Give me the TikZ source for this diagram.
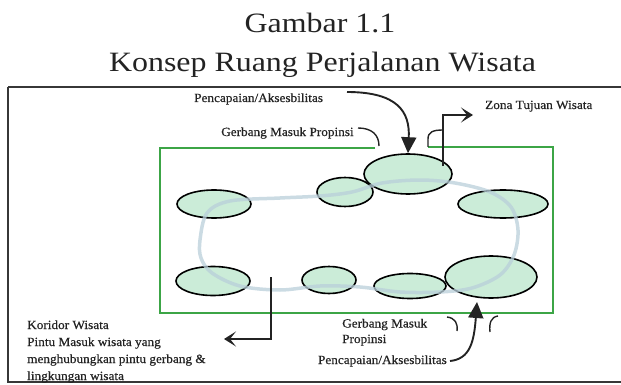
\documentclass[tikz,border=0pt]{standalone}
\usepackage{fontspec}
\setmainfont{Liberation Serif}
\newfontfamily\titlefont[FakeStretch=1.14]{Liberation Serif}
\newfontfamily\labelfont[FakeStretch=1.06,FakeBold=0.5]{Liberation Serif}
\usetikzlibrary{shapes.geometric,arrows.meta}
\definecolor{ink}{RGB}{35,35,35}
\definecolor{framec}{RGB}{55,55,55}
\definecolor{zonec}{RGB}{60,165,70}
\definecolor{mint}{RGB}{203,236,216}
\definecolor{loopc}{RGB}{185,207,218}
\begin{document}
\begin{tikzpicture}[x=1pt,y=-1pt,
  titletext/.style={font=\titlefont\fontsize{28}{30}\selectfont, text=ink, inner sep=0},
  lbl/.style={font=\labelfont\fontsize{12.5}{17}\selectfont, text=ink, inner sep=0},
  spot/.style={ellipse, draw=black, line width=1.6pt, fill=mint, inner sep=0},
  arrowline/.style={draw=ink, line width=1.9pt},
  hookline/.style={draw=ink, line width=1.4pt},
  bigtip/.style={-{Triangle[length=16pt,width=15pt]}},
  opentip/.style={-{Stealth[length=12pt,width=15pt,inset=6pt]}},
]
\useasboundingbox (0,0) rectangle (621,385);

% titles
\node[titletext, anchor=base] (t1) at (320,33) {Gambar 1.1};
\node[titletext, anchor=base] (t2) at (322.5,72) {Konsep Ruang Perjalanan Wisata};

% outer frame
\draw[framec, line width=1.6pt] (621,87) -- (8,87);
\draw[framec, line width=1.2pt] (8,87) -- (8,382) -- (621,382);

% green zone
\draw[zonec, line width=1.5pt] (375,148) -- (160,148) -- (160,313) -- (553,313) -- (553,147) -- (428,147);

% spots
\node[spot, minimum width=74pt, minimum height=28pt] (e1) at (214,204) {};
\node[spot, minimum width=56pt, minimum height=29pt] (e2) at (345,192) {};
\node[spot, minimum width=88pt, minimum height=40pt] (e3) at (408,174) {};
\node[spot, minimum width=90pt, minimum height=28pt] (e4) at (503,204) {};
\node[spot, minimum width=74pt, minimum height=29pt] (e5) at (213,281) {};
\node[spot, minimum width=54pt, minimum height=27pt] (e6) at (329,280) {};
\node[spot, minimum width=72pt, minimum height=25pt] (e7) at (410,286) {};
\node[spot, minimum width=92pt, minimum height=42pt] (e8) at (491,277) {};

% corridor loop
\draw[loopc, line width=3.5pt, opacity=0.75] plot[smooth cycle, tension=0.55] coordinates {
  (200,240) (207,213) (230,201) (280,198) (320,196) (352,192) (382,183) (420,180)
  (455,183) (490,192) (511,207) (518,230) (514,255) (500,275) (472,288) (440,292)
  (400,292) (360,287) (320,286) (280,290) (240,286) (212,273) (201,258)};

% labels
\node[lbl, anchor=base west] (p1) at (194,102) {Pencapaian/Aksesbilitas};
\node[lbl, anchor=base west] (g1) at (221,136) {Gerbang Masuk Propinsi};
\node[lbl, anchor=base west] (z1) at (485,109) {Zona Tujuan Wisata};
\node[lbl, anchor=base west, align=left] (k1) at (27,380)
  {Koridor Wisata\\Pintu Masuk wisata yang\\menghubungkan pintu gerbang \&\\lingkungan wisata};
\node[lbl, anchor=base west, align=left, font=\labelfont\fontsize{12.5}{15.5}\selectfont] (g2) at (342,343)
  {Gerbang Masuk\\Propinsi};
\node[lbl, anchor=base east] (p2) at (447,364) {Pencapaian/Aksesbilitas};

% coordinates for connector ends
\coordinate (a1s) at (347,92);
\coordinate (g1s) at (358,128);
\coordinate (g1e) at (379,146);
\coordinate (zs) at (443,166);
\coordinate (zc) at (443,115);
\coordinate (ze) at (473,115);
\coordinate (zh) at (428,147);
\coordinate (ks) at (271,277);
\coordinate (kc) at (271,339);
\coordinate (ke) at (224,339);
\coordinate (h1s) at (447,317);
\coordinate (h1e) at (457,331);
\coordinate (h2s) at (498,316);
\coordinate (h2e) at (490,332);
\coordinate (a2s) at (450,361);
\coordinate (a2e) at (477,302);

% top access arrow
\draw[arrowline, bigtip] (a1s) .. controls (398,92) and (410,112) .. (e3.north);
% top gate hook
\draw[hookline] (g1s) .. controls (372,128) and (379,135) .. (g1e);
% zone arrow
\draw[arrowline, line width=1.6pt, opentip] (zs) -- (zc) -- (ze);
\draw[hookline] (zh) -- (428,139) .. controls (428,132) and (433,130) .. (443,130);
% corridor arrow
\draw[arrowline, line width=1.6pt, opentip] (ks) -- (kc) -- (ke);
% bottom gate hooks
\draw[hookline] (h1s) .. controls (455,318) and (458,323) .. (h1e);
\draw[hookline] (h2s) .. controls (491,317) and (489,323) .. (h2e);
% bottom access arrow
\draw[arrowline, bigtip] (a2s) .. controls (470,359) and (474,342) .. (a2e);
\end{tikzpicture}
\end{document}
